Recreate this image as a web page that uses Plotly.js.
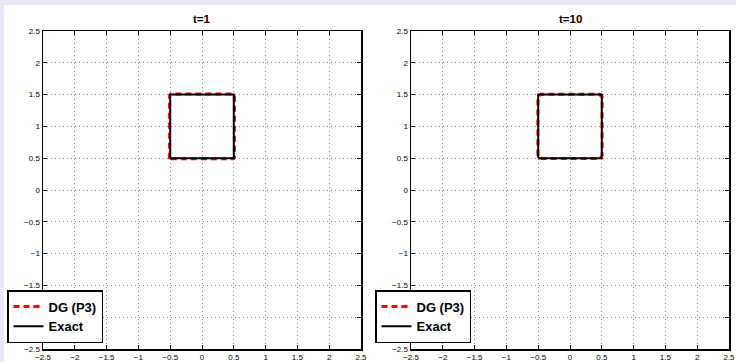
<!DOCTYPE html>
<html>
<head>
<meta charset="utf-8">
<script src="https://cdn.plot.ly/plotly-3.0.1.min.js"></script>
<style>
html,body{margin:0;padding:0;background:#e9e9f8;}
#chart{width:736px;height:362px;}
</style>
</head>
<body>
<div id="chart"></div>
<script>
// Exact solution: unit square
const exactX = [-0.5, 0.5, 0.5, -0.5, -0.5];
const exactY = [0.5, 0.5, 1.5, 1.5, 0.5];

// DG (P3) at t=1
const dg1X = [-0.49, -0.25, 0.0, 0.25, 0.49, 0.51, 0.51, 0.51, 0.49, 0.25, 0.0, -0.25, -0.49, -0.51, -0.51, -0.51, -0.49];
const dg1Y = [0.49, 0.49, 0.5, 0.49, 0.49, 0.51, 1.0, 1.49, 1.51, 1.51, 1.5, 1.51, 1.51, 1.49, 1.0, 0.51, 0.49];

// DG (P3) at t=10 (slightly rounded corners)
const dg10X = [-0.46, 0.0, 0.46, 0.505, 0.51, 0.505, 0.46, 0.0, -0.46, -0.505, -0.51, -0.505, -0.46];
const dg10Y = [0.495, 0.495, 0.495, 0.54, 1.0, 1.46, 1.505, 1.51, 1.505, 1.46, 1.0, 0.54, 0.495];

const titles = ["t=1", "t=10"];
const tickVals = [-2.5, -2, -1.5, -1, -0.5, 0, 0.5, 1, 1.5, 2, 2.5];
const tickText = ["\u22122.5", "\u22122", "\u22121.5", "\u22121", "\u22120.5", "0", "0.5", "1", "1.5", "2", "2.5"];

const dgStyle = {color: "#ff0000", width: 3, dash: "6px,4px"};
const exStyle = {color: "#000000", width: 2};

const traces = [
  {x: dg1X, y: dg1Y, mode: "lines", name: "DG (P3)", line: dgStyle, xaxis: "x", yaxis: "y", legend: "legend"},
  {x: exactX, y: exactY, mode: "lines", name: "Exact", line: exStyle, xaxis: "x", yaxis: "y", legend: "legend"},
  {x: dg10X, y: dg10Y, mode: "lines", name: "DG (P3)", line: dgStyle, xaxis: "x2", yaxis: "y2", legend: "legend2"},
  {x: exactX, y: exactY, mode: "lines", name: "Exact", line: exStyle, xaxis: "x2", yaxis: "y2", legend: "legend2"}
];

const W = 736, H = 362;
const m = {l: 43, r: 7, t: 31, b: 13};
const pw = W - m.l - m.r, ph = H - m.t - m.b;
const px = v => (v - m.l) / pw;
const py = v => (H - m.b - v) / ph;

function axis(domain, anchor) {
  return {
    domain: domain, anchor: anchor, range: [-2.5, 2.5],
    tickmode: "array", tickvals: tickVals, ticktext: tickText,
    ticks: "inside", ticklen: 4, tickcolor: "#000", tickwidth: 1,
    showline: true, linecolor: "#000", linewidth: 1.5, mirror: "ticks",
    showgrid: true, gridcolor: "#8c8c8c", gridwidth: 1, griddash: "1px,3px",
    zeroline: false, fixedrange: true,
    tickfont: {family: "Liberation Sans, Arial, sans-serif", size: 8, color: "#000"}
  };
}

const legendBase = {
  bgcolor: "#ffffff", bordercolor: "#000", borderwidth: 1.5,
  font: {family: "Liberation Sans, Arial, sans-serif", size: 13, color: "#000", weight: "bold"},
  xanchor: "left", yanchor: "bottom", tracegroupgap: 0, itemwidth: 30
};

const layout = {
  width: W, height: H, margin: m,
  paper_bgcolor: "#e9e9f8", plot_bgcolor: "#ffffff",
  showlegend: true,
  xaxis: axis([0, px(361)], "y"),
  yaxis: axis([0, 1], "x"),
  xaxis2: axis([px(411), 1], "y2"),
  yaxis2: axis([0, 1], "x2"),
  legend: Object.assign({x: px(7), y: py(343)}, legendBase),
  legend2: Object.assign({x: px(375), y: py(343)}, legendBase),
  shapes: [{type: "rect", xref: "paper", yref: "paper", layer: "below",
    x0: px(4), x1: px(740), y0: py(366), y1: py(5),
    fillcolor: "#ffffff", line: {width: 0}}],
  annotations: titles.map((t, i) => ({
    text: "<b>" + t + "</b>", xref: "paper", yref: "paper",
    x: i === 0 ? px(202) : px(570), y: py(19), showarrow: false,
    xanchor: "center", yanchor: "middle",
    font: {family: "Liberation Sans, Arial, sans-serif", size: 11.5, color: "#000"}
  }))
};

Plotly.newPlot("chart", traces, layout, {displayModeBar: false, staticPlot: true});
</script>
</body>
</html>
